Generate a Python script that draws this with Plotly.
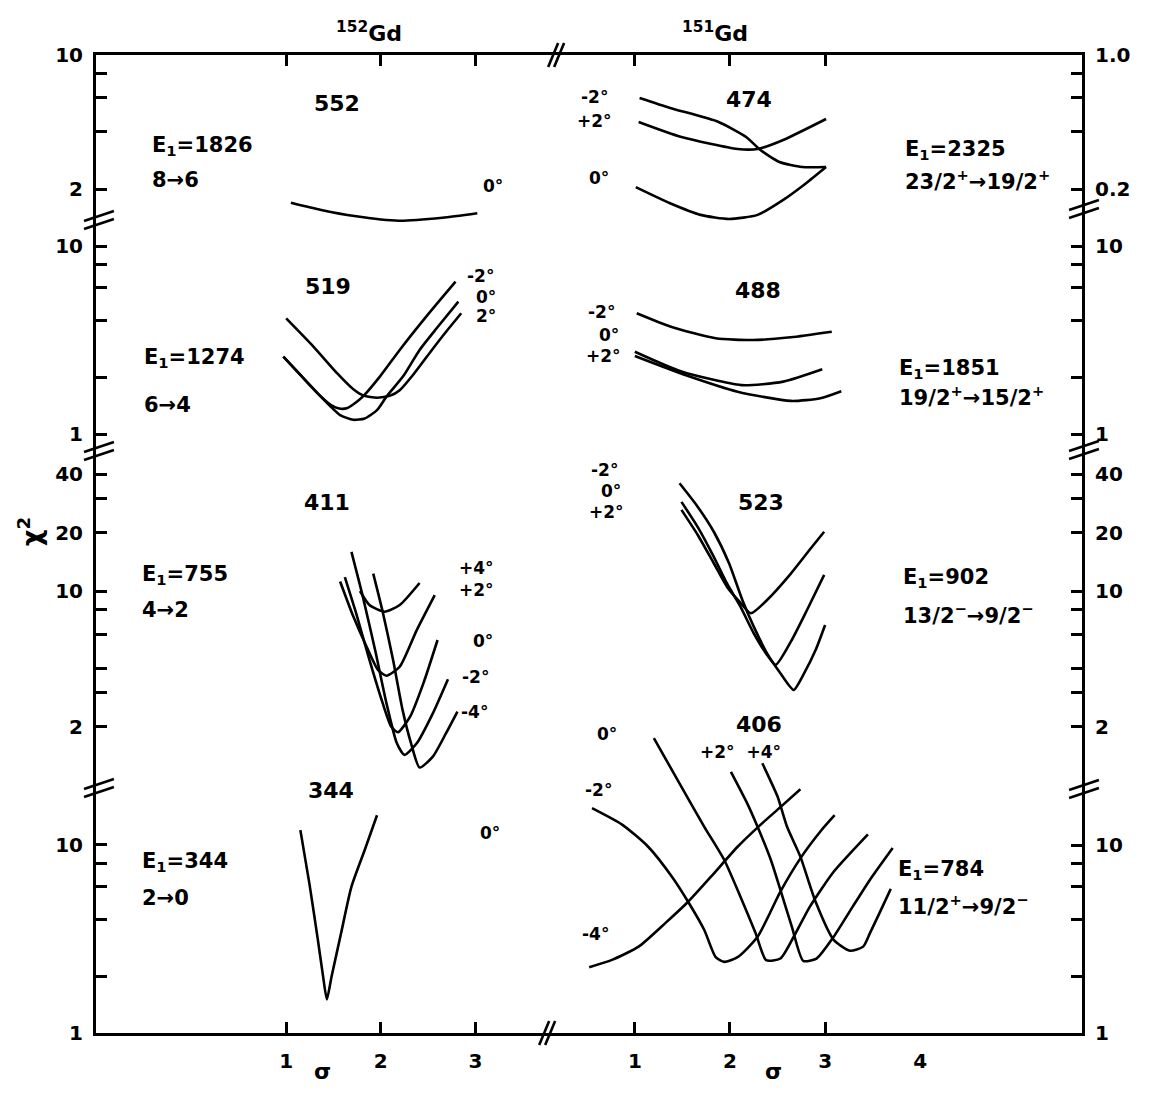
import plotly.graph_objects as go

FONT = "DejaVu Sans"
INK = "black"

# ---------------- data (sigma, chi^2) ----------------
# Row 1 : 152Gd 552 keV  /  151Gd 474 keV (right axis units)
s552 = [1.05, 1.37, 1.72, 2.19, 2.65, 3.02]
c552 = [1.70, 1.56, 1.45, 1.37, 1.42, 1.50]

s474_m2 = [1.05, 1.37, 1.88, 2.17, 2.32, 2.52, 2.76, 3.01]
c474_m2 = [0.597, 0.530, 0.448, 0.374, 0.320, 0.277, 0.261, 0.261]
s474_p2 = [1.04, 1.49, 2.08, 2.29, 2.56, 3.01]
c474_p2 = [0.448, 0.374, 0.324, 0.324, 0.361, 0.464]
s474_0 = [1.01, 1.37, 1.69, 1.99, 2.29, 2.56, 2.80, 3.01]
c474_0 = [0.205, 0.169, 0.147, 0.140, 0.147, 0.176, 0.215, 0.261]

# Row 2 : 519 keV / 488 keV
s519_m2 = [0.97, 1.15, 1.33, 1.47, 1.55, 1.64, 1.75, 1.82, 1.99, 2.20, 2.48, 2.79]
c519_m2 = [2.58, 2.06, 1.65, 1.43, 1.37, 1.37, 1.49, 1.60, 2.02, 2.80, 4.21, 6.46]
s519_0 = [0.97, 1.15, 1.33, 1.47, 1.57, 1.71, 1.83, 1.96, 2.06, 2.24, 2.41, 2.59, 2.82]
c519_0 = [2.58, 2.06, 1.65, 1.40, 1.26, 1.19, 1.21, 1.34, 1.58, 2.04, 2.80, 3.65, 5.06]
s519_p2 = [1.00, 1.29, 1.54, 1.71, 1.82, 1.96, 2.10, 2.20, 2.34, 2.54, 2.69, 2.85]
c519_p2 = [4.12, 2.91, 2.10, 1.73, 1.60, 1.56, 1.60, 1.71, 2.06, 2.80, 3.50, 4.39]

s488_m2 = [1.02, 1.38, 1.85, 2.24, 2.64, 3.07]
c488_m2 = [4.39, 3.72, 3.23, 3.16, 3.27, 3.50]
s488_0 = [1.00, 1.49, 2.12, 2.56, 2.97]
c488_0 = [2.74, 2.15, 1.82, 1.90, 2.21]
s488_p2 = [1.00, 1.53, 2.08, 2.64, 2.95, 3.17]
c488_p2 = [2.60, 2.06, 1.68, 1.50, 1.55, 1.69]

# Row 3 : 411 keV / 523 keV
s411_p4 = [1.78, 1.88, 2.04, 2.20, 2.41]
c411_p4 = [10.0, 8.47, 7.82, 8.47, 11.0]
s411_p2 = [1.57, 1.71, 1.85, 1.97, 2.06, 2.20, 2.38, 2.57]
c411_p2 = [11.2, 7.38, 5.16, 3.92, 3.66, 4.07, 6.29, 9.53]
s411_0 = [1.62, 1.74, 1.88, 2.02, 2.11, 2.18, 2.31, 2.45, 2.60]
c411_0 = [11.8, 7.67, 4.41, 2.64, 2.00, 1.87, 2.25, 3.34, 5.59]
s411_m2 = [1.69, 1.81, 1.94, 2.06, 2.17, 2.25, 2.38, 2.55, 2.71]
c411_m2 = [15.9, 9.35, 4.96, 2.64, 1.64, 1.43, 1.64, 2.34, 3.51]
s411_m4 = [1.92, 2.02, 2.13, 2.23, 2.32, 2.41, 2.55, 2.69, 2.81]
c411_m4 = [12.3, 7.82, 4.41, 2.44, 1.64, 1.23, 1.40, 1.85, 2.39]

s523_m2 = [1.47, 1.66, 1.83, 1.99, 2.13, 2.25, 2.39, 2.53, 2.67, 2.78, 2.90, 3.00]
c523_m2 = [35.9, 27.2, 20.2, 13.9, 8.99, 6.55, 4.77, 3.77, 3.09, 3.77, 4.96, 6.68]
s523_0 = [1.49, 1.66, 1.83, 1.97, 2.11, 2.25, 2.39, 2.48, 2.64, 2.81, 2.99]
c523_0 = [28.8, 21.4, 15.0, 10.9, 8.30, 6.05, 4.68, 4.16, 5.48, 7.98, 12.1]
s523_p2 = [1.49, 1.66, 1.83, 1.97, 2.10, 2.22, 2.39, 2.64, 2.85, 2.99]
c523_p2 = [26.2, 19.5, 13.9, 10.5, 8.81, 7.68, 8.99, 12.3, 16.6, 20.2]

# Row 4 : 344 keV / 406 keV
s344 = [1.15, 1.245, 1.335, 1.39, 1.43, 1.48, 1.58, 1.69, 1.83, 1.96]
c344 = [12.0, 6.25, 3.13, 2.00, 1.51, 2.00, 3.39, 6.00, 9.40, 14.4]

s406_m4 = [0.52, 0.76, 1.04, 1.32, 1.56, 1.80, 2.08, 2.32, 2.53, 2.74]
c406_m4 = [2.24, 2.45, 2.88, 3.84, 4.99, 6.78, 9.79, 12.8, 15.9, 19.8]
s406_m2 = [0.55, 0.87, 1.14, 1.39, 1.56, 1.73, 1.85, 1.94, 2.08, 2.29, 2.53, 2.74, 2.95, 3.10]
c406_m2 = [15.7, 12.8, 9.79, 6.78, 4.99, 3.53, 2.53, 2.39, 2.53, 3.25, 5.65, 8.49, 11.8, 14.4]
s406_0 = [1.20, 1.49, 1.73, 1.94, 2.11, 2.27, 2.38, 2.53, 2.67, 2.84, 3.09, 3.45]
c406_0 = [37.0, 20.4, 12.5, 8.32, 5.31, 3.39, 2.44, 2.49, 3.25, 4.70, 7.21, 11.4]
s406_p2 = [2.01, 2.18, 2.29, 2.43, 2.53, 2.65, 2.77, 2.91, 3.09, 3.29, 3.47, 3.71]
c406_p2 = [24.5, 16.7, 12.5, 8.32, 5.77, 3.68, 2.42, 2.49, 3.25, 4.70, 6.52, 9.64]
s406_p4 = [2.34, 2.50, 2.60, 2.74, 2.90, 3.09, 3.26, 3.40, 3.47, 3.57, 3.69]
c406_p4 = [27.2, 18.1, 12.5, 8.67, 4.99, 3.13, 2.74, 2.88, 3.39, 4.33, 5.84]

# tick values / labels (labelled ticks, unlabelled ticks)
x_ticks = [1, 2, 3]
x_right_labels = [1, 2, 3, 4]
y_lab_r1_left = [2, 10]
y_txt_r1_left = ["2", "10"]
y_min_r1_left = [4, 6, 8]
y_lab_r1_right = [0.2, 1.0]
y_txt_r1_right = ["0.2", "1.0"]
y_min_r1_right = [0.4, 0.6, 0.8]
y_lab_r2 = [1, 10]
y_txt_r2 = ["1", "10"]
y_min_r2 = [2, 4, 6, 8]
y_lab_r3 = [2, 10, 20, 40]
y_txt_r3 = ["2", "10", "20", "40"]
y_min_r3 = [3, 4, 6, 8, 30]
y_lab_r4 = [1, 10]
y_txt_r4 = ["1", "10"]
y_min_r4 = [2, 4, 6, 8]

# ---------------- geometry (page pixels) ----------------
PAGE_W, PAGE_H = 1150, 1095
BODY = 8                      # default body margin of the html page
W, H = PAGE_W - 2 * BODY, PAGE_H - 2 * BODY
L, R, T, B = 96, 1086, 55, 1033   # plot area in page pixels
XBRK = 552


def fx(x):
    return (x - L) / (R - L)


def fy(y):
    return (B - y) / (B - T)


left_dom = [0, fx(XBRK)]
right_dom = [fx(XBRK), 1]
xr_left = [-1.01, 3.79]
xr_right = [0.11, 5.70]

# per (row, col): (top px, bottom px, log range)
ygeo = {
    (1, 0): (55, 225, [0.1146, 1.0]),
    (1, 1): (55, 225, [-0.8854, 0.0]),
    (2, 0): (225, 450, [-0.0851, 1.1117]),
    (2, 1): (225, 450, [-0.0851, 1.1117]),
    (3, 0): (450, 785, [0.0, 1.7268]),
    (3, 1): (450, 785, [0.0, 1.7268]),
    (4, 0): (785, 1033, [0.0, 1.3191]),
    (4, 1): (730, 1033, [0.0, 1.6117]),
}
yticks = {
    (1, 0): (y_lab_r1_left, y_txt_r1_left, y_min_r1_left),
    (1, 1): (y_lab_r1_right, y_txt_r1_right, y_min_r1_right),
    (2, 0): (y_lab_r2, y_txt_r2, y_min_r2), (2, 1): (y_lab_r2, y_txt_r2, y_min_r2),
    (3, 0): (y_lab_r3, y_txt_r3, y_min_r3), (3, 1): (y_lab_r3, y_txt_r3, y_min_r3),
    (4, 0): (y_lab_r4, y_txt_r4, y_min_r4), (4, 1): (y_lab_r4, y_txt_r4, y_min_r4),
}


def aid(row, col):
    return row + 4 * col


def ax_name(prefix, i):
    return prefix + ("" if i == 1 else str(i))


fig = go.Figure()

curves = [
    (s552, c552, 1, 0),
    (s474_m2, c474_m2, 1, 1), (s474_p2, c474_p2, 1, 1), (s474_0, c474_0, 1, 1),
    (s519_m2, c519_m2, 2, 0), (s519_0, c519_0, 2, 0), (s519_p2, c519_p2, 2, 0),
    (s488_m2, c488_m2, 2, 1), (s488_0, c488_0, 2, 1), (s488_p2, c488_p2, 2, 1),
    (s411_p4, c411_p4, 3, 0), (s411_p2, c411_p2, 3, 0), (s411_0, c411_0, 3, 0),
    (s411_m2, c411_m2, 3, 0), (s411_m4, c411_m4, 3, 0),
    (s523_m2, c523_m2, 3, 1), (s523_0, c523_0, 3, 1), (s523_p2, c523_p2, 3, 1),
    (s344, c344, 4, 0),
    (s406_m4, c406_m4, 4, 1), (s406_m2, c406_m2, 4, 1), (s406_0, c406_0, 4, 1),
    (s406_p2, c406_p2, 4, 1), (s406_p4, c406_p4, 4, 1),
]
for s, c, row, col in curves:
    i = aid(row, col)
    fig.add_trace(go.Scatter(
        x=s, y=c, mode="lines",
        line=dict(color=INK, width=2.6, shape="spline", smoothing=0.6),
        xaxis=ax_name("x", i), yaxis=ax_name("y", i),
        showlegend=False, hoverinfo="skip"))

tickfont = dict(family=FONT, size=20, color=INK, weight="bold")
tick_style = dict(ticks="inside", ticklen=11, tickwidth=2.5, tickcolor=INK)
layout = {}
for row in range(1, 5):
    for col in range(2):
        i = aid(row, col)
        top, bot, yr = ygeo[(row, col)]
        xa = dict(domain=left_dom if col == 0 else right_dom,
                  range=xr_left if col == 0 else xr_right,
                  anchor=ax_name("y", i), showgrid=False, zeroline=False,
                  fixedrange=True)
        if row == 1:
            xa.update(side="top", showline=True, linecolor=INK, linewidth=3,
                      tickvals=x_ticks, showticklabels=False, **tick_style)
        elif row == 4:
            vals = x_ticks if col == 0 else x_right_labels
            xa.update(side="bottom", showline=True, linecolor=INK, linewidth=3,
                      ticks="", tickvals=vals, ticktext=[str(v) for v in vals],
                      tickfont=tickfont, ticklabelstandoff=8,
                      minor=dict(tickvals=x_ticks, showgrid=False, **tick_style))
        else:
            xa.update(showline=False, ticks="", showticklabels=False)
        tv, tt, tm = yticks[(row, col)]
        ya = dict(domain=[fy(bot), fy(top)], range=yr, type="log",
                  anchor=ax_name("x", i), side="left" if col == 0 else "right",
                  showline=True, linecolor=INK, linewidth=3, showgrid=False,
                  zeroline=False, tickvals=tv, ticktext=tt, tickfont=tickfont,
                  ticklabelstandoff=6, fixedrange=True,
                  minor=dict(tickvals=tm, showgrid=False, **tick_style),
                  **tick_style)
        layout[ax_name("xaxis", i)] = xa
        layout[ax_name("yaxis", i)] = ya

# ---------------- text ----------------
ann = []


def txt(s, x, y, size=17, anchor="center", angle=0):
    ann.append(dict(text=s, x=fx(x), y=fy(y), xref="paper", yref="paper",
                    showarrow=False, xanchor=anchor, yanchor="middle",
                    textangle=angle,
                    font=dict(family=FONT, size=size, color=INK, weight="bold")))


txt("<sup>152</sup>Gd", 370, 32, 22)
txt("<sup>151</sup>Gd", 718, 32, 22)
txt("χ<sup>2</sup>", 30, 532, 26, angle=-90)
txt("σ", 323, 1071, 22)
txt("σ", 776, 1071, 22)

# row 1
txt("552", 338, 103, 22)
txt("E<sub>1</sub>=1826", 150, 146, 21, "left")
txt("8→6", 150, 180, 21, "left")
txt("0°", 495, 186)
txt("-2°", 597, 97)
txt("+2°", 597, 121)
txt("0°", 601, 178)
txt("474", 752, 99, 22)
txt("E<sub>1</sub>=2325", 906, 150, 21, "left")
txt("23/2<sup>+</sup>→19/2<sup>+</sup>", 906, 180, 21, "left")
# row 2
txt("519", 329, 286, 22)
txt("E<sub>1</sub>=1274", 142, 358, 21, "left")
txt("6→4", 142, 405, 21, "left")
txt("-2°", 482, 276)
txt("0°", 488, 297)
txt("2°", 488, 316)
txt("488", 761, 290, 22)
txt("-2°", 604, 312)
txt("0°", 611, 335)
txt("+2°", 606, 356)
txt("E<sub>1</sub>=1851", 900, 369, 21, "left")
txt("19/2<sup>+</sup>→15/2<sup>+</sup>", 900, 396, 21, "left")
# row 3
txt("411", 328, 503, 22)
txt("E<sub>1</sub>=755", 140, 575, 21, "left")
txt("4→2", 140, 610, 21, "left")
txt("+4°", 478, 568)
txt("+2°", 478, 590)
txt("0°", 485, 641)
txt("-2°", 477, 677)
txt("-4°", 476, 712)
txt("-2°", 607, 470)
txt("0°", 613, 491)
txt("+2°", 609, 512)
txt("523", 764, 503, 22)
txt("E<sub>1</sub>=902", 904, 578, 21, "left")
txt("13/2<sup>−</sup>→9/2<sup>−</sup>", 904, 614, 21, "left")
# row 4
txt("344", 332, 790, 22)
txt("E<sub>1</sub>=344", 140, 862, 21, "left")
txt("2→0", 140, 898, 21, "left")
txt("0°", 492, 833)
txt("406", 762, 724, 22)
txt("0°", 609, 734)
txt("+2°  +4°", 743, 752)
txt("-2°", 601, 790)
txt("-4°", 598, 934)
txt("E<sub>1</sub>=784", 899, 870, 21, "left")
txt("11/2<sup>+</sup>→9/2<sup>−</sup>", 899, 905, 21, "left")

# ---------------- axis break marks ----------------
shapes = []


def seg(x0, y0, x1, y1):
    shapes.append(dict(type="line", xref="paper", yref="paper",
                       x0=fx(x0), y0=fy(y0), x1=fx(x1), y1=fy(y1),
                       line=dict(color=INK, width=2.6)))


def brk_v(x, y):
    seg(x - 15, y + 1, x + 15, y - 9)
    seg(x - 15, y + 9, x + 15, y - 1)


def brk_h(x, y):
    seg(x - 8, y + 12, x + 2, y - 12)
    seg(x - 2, y + 12, x + 8, y - 12)


for yb in (220, 451, 788):
    brk_v(L + 3, yb)
for yb in (209, 450, 789):
    brk_v(R + 2, yb)
brk_h(XBRK + 6, T)
brk_h(XBRK - 3, B)

fig.update_layout(
    width=W, height=H,
    margin=dict(l=L - BODY, r=(PAGE_W - BODY) - R, t=T - BODY,
                b=(PAGE_H - BODY) - B, pad=0),
    paper_bgcolor="white", plot_bgcolor="rgba(0,0,0,0)",
    annotations=ann, shapes=shapes, showlegend=False,
    **layout)

fig.write_html("out.html")
